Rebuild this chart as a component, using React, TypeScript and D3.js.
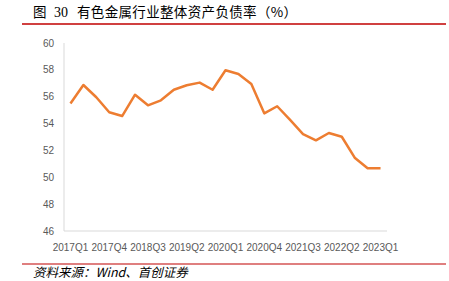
import React from "react";
import * as d3 from "d3";

const quarters = [
  "2017Q1","2017Q2","2017Q3","2017Q4",
  "2018Q1","2018Q2","2018Q3","2018Q4",
  "2019Q1","2019Q2","2019Q3","2019Q4",
  "2020Q1","2020Q2","2020Q3","2020Q4",
  "2021Q1","2021Q2","2021Q3","2021Q4",
  "2022Q1","2022Q2","2022Q3","2022Q4",
  "2023Q1",
];
const debtRatio = [
  55.5, 56.87, 55.96, 54.84, 54.56, 56.15, 55.36, 55.73, 56.52, 56.85,
  57.05, 56.52, 57.97, 57.69, 56.95, 54.76, 55.29, 54.27, 53.22, 52.75,
  53.3, 53.02, 51.46, 50.67, 50.67,
];
const yTicks = [46, 48, 50, 52, 54, 56, 58, 60];
const xLabelEvery = 3;
const titleLabel = "图";
const titleNumber = "30";
const titleText = "有色金属行业整体资产负债率（%）";
const source = "资料来源：Wind、首创证券";

export default function App() {
  const W = 449, H = 281;
  const x = d3.scaleBand<string>().domain(quarters).range([64, 387]);
  const y = d3.scaleLinear().domain([46, 60]).range([231, 43]);
  const line = d3
    .line<number>()
    .x((_, i) => (x(quarters[i]) as number) + x.bandwidth() / 2)
    .y((d) => y(d));
  const axisColor = "#d9d9d9";
  const textColor = "#595959";
  const cjk = "'Noto Sans CJK SC'";
  return (
    <svg width={W} height={H} style={{ position: "absolute", left: 0, top: 0, background: "#fff" }}>
      <text x={33} y={17} fontFamily={cjk} fontSize={13.5} fill="#000">{titleLabel}</text>
      <text x={54} y={17} fontFamily="'Liberation Serif', serif" fontSize={14} fill="#000">{titleNumber}</text>
      <text x={77} y={17} fontFamily={cjk} fontSize={13.5} fill="#000" textLength={220} lengthAdjust="spacing">
        {titleText}
      </text>
      <line x1={22} x2={446} y1={24} y2={24} stroke="#c00000" strokeWidth={1.5} />
      <line x1={64} x2={64} y1={43} y2={231} stroke={axisColor} strokeWidth={1} />
      <line x1={64} x2={387} y1={231} y2={231} stroke={axisColor} strokeWidth={1} />
      {yTicks.map((t) => (
        <text key={t} x={54} y={y(t)} dy="0.35em" textAnchor="end" fontFamily="'Liberation Sans', Arial" fontSize={10} fill={textColor}>
          {t}
        </text>
      ))}
      {quarters.map((q, i) =>
        i % xLabelEvery === 0 ? (
          <text key={q} x={(x(q) as number) + x.bandwidth() / 2} y={247} dy="0.35em" textAnchor="middle" fontFamily="'Liberation Sans', Arial" fontSize={10} fill={textColor}>
            {q}
          </text>
        ) : null
      )}
      <path d={line(debtRatio) || ""} fill="none" stroke="#ed7d31" strokeWidth={2.5} strokeLinejoin="round" />
      <line x1={22} x2={446} y1={264} y2={264} stroke="#c00000" strokeWidth={1.2} />
      <text x={33} y={277} fontFamily={cjk} fontSize={12.5} fontStyle="italic" fill="#000">
        {source}
      </text>
    </svg>
  );
}
